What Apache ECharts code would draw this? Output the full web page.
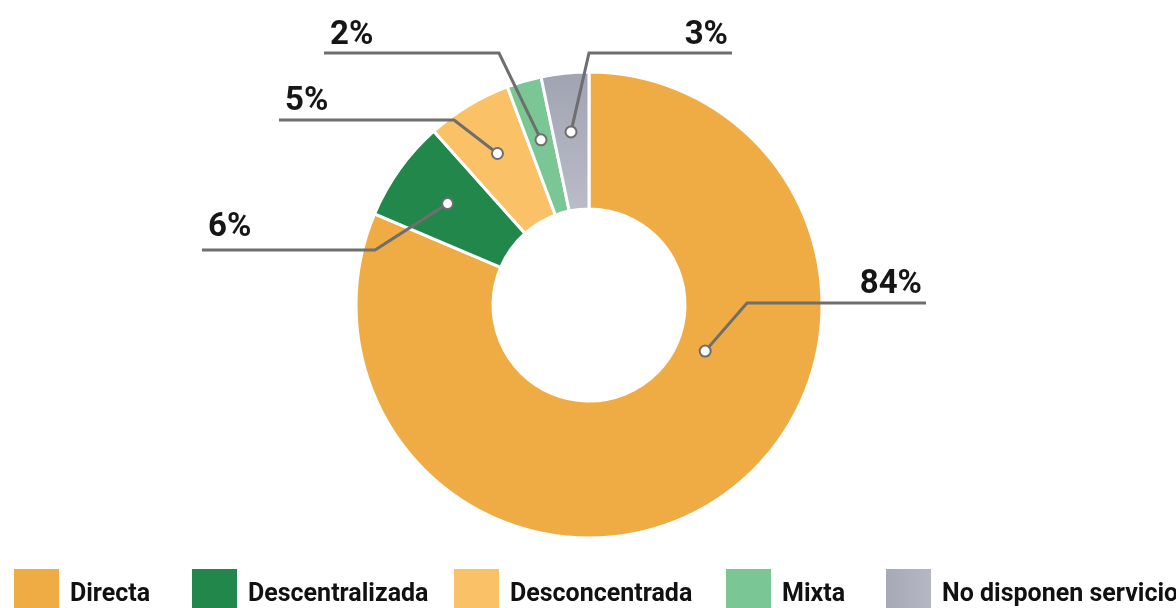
<!DOCTYPE html>
<html>
<head>
<meta charset="utf-8">
<script src="https://cdn.jsdelivr.net/npm/echarts@6/dist/echarts.min.js"></script>
<style>
    html, body { margin: 0; padding: 0; background: #fff; }
    #chart { width: 1176px; height: 608px; }
</style>
</head>
<body>
<div id="chart"></div>
<script>
// data
const categories = ['Directa', 'Descentralizada', 'Desconcentrada', 'Mixta', 'No disponen servicio'];
const shares = [81.4, 7.0, 5.9, 2.4, 3.3];
const shareLabels = ['84%', '6%', '5%', '2%', '3%'];

const colors = ['#F0AC44', '#21874A', '#FBC166', '#7AC795', '#A9ABB8'];
const FONT = 'Roboto, "Liberation Sans", sans-serif';
const LINE = '#6E6E6E';

const CX = 589, CY = 305, R0 = 96, R1 = 233;

// where each leader starts inside its slice: [fraction of slice angle, radius]
const dotSpot = [[0.381, 125], [0.5, 174], [0.5, 177], [0.5, 172], [0.5, 174]];
// leader elbow, end of horizontal run, and baseline of the text
const leaders = [
    { elbow: [747, 303], end: 926, side: 'right', base: 294 },
    { elbow: [375, 250], end: 202, side: 'left', base: 237 },
    { elbow: [454, 120], end: 279, side: 'left', base: 111 },
    { elbow: [499, 53], end: 324, side: 'left', base: 45 },
    { elbow: [589, 53], end: 732, side: 'right', base: 45 }
];
const legendLeft = [12, 190, 452, 724, 884];

const total = shares.reduce((a, b) => a + b, 0);

function spot(i) {
    let before = 0;
    for (let k = 0; k < i; k++) before += shares[k];
    const a0 = before / total * Math.PI * 2;
    const span = shares[i] / total * Math.PI * 2;
    const a = -Math.PI / 2 + a0 + span * dotSpot[i][0];
    const r = dotSpot[i][1];
    return [CX + r * Math.cos(a), CY + r * Math.sin(a)];
}

const chart = echarts.init(document.getElementById('chart'));

let pieData = categories.map((name, i) => {
    let color = colors[i];
    if (i === 4) {
        color = new echarts.graphic.LinearGradient(0, 0, 0, 1, [
            { offset: 0, color: '#A0A3B1' },
            { offset: 1, color: '#BABCC8' }
        ]);
    }
    return { name: name, value: shares[i], itemStyle: { color: color } };
});

let legends = categories.map((name, i) => {
    let item = { name: name };
    if (i === 4) {
        item.itemStyle = {
            color: new echarts.graphic.LinearGradient(0, 0, 1, 0, [
                { offset: 0, color: '#A5A8B5' },
                { offset: 1, color: '#B6B8C4' }
            ])
        };
    }
    return {
        data: [item],
        left: legendLeft[i],
        top: 567,
        padding: 0,
        icon: 'rect',
        itemWidth: 47,
        itemHeight: 42,
        selectedMode: false,
        formatter: '{t|{name}}',
        textStyle: {
            rich: {
                t: {
                    fontFamily: FONT,
                    fontWeight: 'bold',
                    fontSize: 25,
                    lineHeight: 25,
                    color: '#111',
                    padding: [12, 0, 0, 5]
                }
            }
        }
    };
});

let dots = categories.map((name, i) => {
    const p = spot(i);
    return {
        type: 'circle',
        z: 100,
        shape: { cx: p[0], cy: p[1], r: 5.5 },
        style: { fill: '#fff', stroke: LINE, lineWidth: 2 }
    };
});

let option = {
    animation: false,
    color: colors,
    legend: legends,
    graphic: dots,
    series: [
        {
            // coloured ring
            type: 'pie',
            z: 2,
            center: [CX, CY],
            radius: [R0, R1],
            startAngle: 90,
            clockwise: true,
            silent: true,
            itemStyle: {
                borderColor: '#fff',
                borderWidth: 3
            },
            label: { show: false },
            labelLine: { show: false },
            data: pieData
        },
        {
            // same ring, transparent, carries the leaders above the slices
            type: 'pie',
            z: 5,
            center: [CX, CY],
            radius: [R0, R1],
            startAngle: 90,
            clockwise: true,
            silent: true,
            avoidLabelOverlap: false,
            itemStyle: {
                color: 'rgba(0,0,0,0)',
                borderWidth: 0
            },
            label: {
                show: true,
                position: 'outside',
                formatter: (p) => shareLabels[p.dataIndex],
                fontFamily: FONT,
                fontWeight: 'bold',
                fontSize: 33,
                color: '#161616'
            },
            labelLine: {
                show: true,
                lineStyle: { color: LINE, width: 3 }
            },
            labelLayout: function (params) {
                const i = params.dataIndex;
                const l = leaders[i];
                const y = l.elbow[1];
                return {
                    x: l.side === 'right' ? l.end - 4 : l.end + 6,
                    y: l.base + 7,
                    align: l.side === 'right' ? 'right' : 'left',
                    verticalAlign: 'bottom',
                    labelLinePoints: [spot(i), l.elbow, [l.end, y]]
                };
            },
            data: categories.map((name, i) => ({ name: name, value: shares[i] }))
        }
    ]
};

chart.setOption(option);
window.addEventListener('resize', () => {
    chart.resize();
});
</script>
</body>
</html>
